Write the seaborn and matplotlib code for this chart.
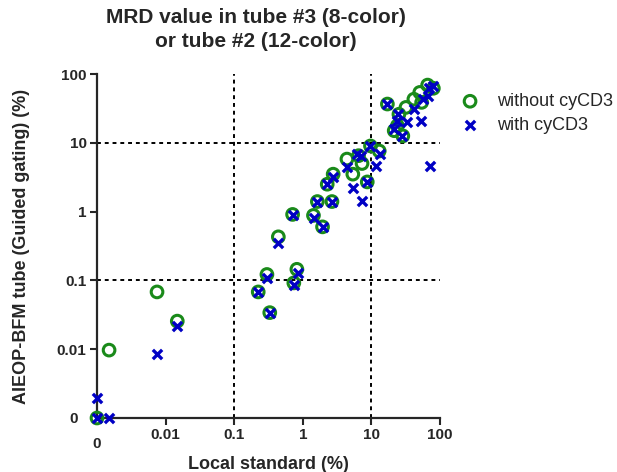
import numpy as np
import pandas as pd
import matplotlib
matplotlib.use("Agg")
import matplotlib.pyplot as plt
import seaborn as sns

# MRD values (%); 0 means negative, drawn on the axis floor like GraphPad does
local_wo = [0, 0.0015, 0.0075, 0.0148, 0.224, 0.30, 0.33, 0.74, 0.82, 0.44,
            0.71, 1.43, 1.94, 1.63, 2.66, 2.27, 2.77, 4.4, 5.36, 6.5,
            7.3, 8.7, 9.7, 13.0, 17.1, 21.5, 23.9, 25.2, 28.7, 31.9,
            41.6, 50.7, 54.0, 66.0, 80.0]
guided_wo = [0, 0.0097, 0.068, 0.0256, 0.068, 0.122, 0.034, 0.092, 0.145, 0.43,
             0.91, 0.88, 0.60, 1.40, 1.40, 2.5, 3.5, 5.8, 3.5, 6.5,
             5.0, 2.7, 9.0, 7.6, 36.6, 15.0, 17.7, 26.0, 12.6, 32.7,
             43.0, 54.0, 38.7, 69.0, 62.0]

local_w = [0, 0, 0.0015, 0.0075, 0.0148, 0.224, 0.30, 0.33, 0.74, 0.84,
           0.44, 0.71, 1.47, 1.94, 1.63, 2.66, 2.27, 2.77, 4.4, 5.36,
           6.1, 7.0, 7.3, 8.7, 9.7, 11.8, 13.5, 17.1, 21.5, 24.5,
           23.9, 27.9, 33.2, 41.6, 52.7, 55.6, 66.0, 72.4, 70.0, 80.0]
guided_w = [0, 0.00195, 0, 0.0086, 0.0216, 0.068, 0.109, 0.034, 0.087, 0.126,
            0.354, 0.88, 0.82, 0.60, 1.40, 1.40, 2.5, 3.2, 4.4, 2.24,
            6.8, 6.5, 1.43, 2.7, 9.0, 4.6, 6.8, 36.6, 15.8, 26.0,
            20.9, 12.6, 20.2, 31.0, 20.9, 43.0, 48.0, 4.6, 62.0, 66.0]

x_ticks = [0, 0.01, 0.1, 1, 10, 100]
y_ticks = [0, 0.01, 0.1, 1, 10, 100]
cutoffs = [0.1, 10]
ZERO = 0.001  # where "0" sits on the log axes

GREEN = "#1a8a1a"
BLUE = "#0000c4"


def floor0(v):
    v = np.asarray(v, dtype=float)
    return np.where(v <= 0, ZERO, v)


df_wo = pd.DataFrame({"local": floor0(local_wo), "guided": floor0(guided_wo)})
df_w = pd.DataFrame({"local": floor0(local_w), "guided": floor0(guided_w)})

sns.set_style("ticks")
plt.rcParams["font.family"] = ["Liberation Sans", "DejaVu Sans"]

fig = plt.figure(figsize=(6.17, 4.72), dpi=100)
ax = fig.add_axes([97 / 617, 1 - 418 / 472, 343 / 617, 344 / 472])

ax.set_xscale("log")
ax.set_yscale("log")
ax.set_xlim(ZERO, 100)
ax.set_ylim(ZERO, 100)

for c in cutoffs:
    ax.axvline(c, color="black", lw=1.4, ls=(0, (2, 2)), zorder=1)
    ax.axhline(c, color="black", lw=1.4, ls=(0, (2, 2)), zorder=1)

sns.scatterplot(data=df_wo, x="local", y="guided", ax=ax, marker="o", s=70,
                facecolors="none", edgecolor=GREEN, linewidth=2.2,
                label="without cyCD3", clip_on=False, zorder=3)
sns.scatterplot(data=df_w, x="local", y="guided", ax=ax, marker="x", s=45,
                color=BLUE, linewidth=2.4, label="with cyCD3",
                clip_on=False, zorder=4)

ax.xaxis.set_major_locator(matplotlib.ticker.FixedLocator(floor0(x_ticks)))
ax.yaxis.set_major_locator(matplotlib.ticker.FixedLocator(floor0(y_ticks)))
ax.xaxis.set_minor_locator(matplotlib.ticker.NullLocator())
ax.yaxis.set_minor_locator(matplotlib.ticker.NullLocator())
ax.set_xticklabels([f"{t:g}" for t in x_ticks])
ax.set_yticklabels([f"{t:g}" for t in y_ticks])
ax.tick_params(axis="both", length=5, width=1.5, labelsize=11, pad=2.5)
for lbl in ax.get_xticklabels() + ax.get_yticklabels():
    lbl.set_fontweight("bold")

# GraphPad pushes the "0" labels away from the axes
xt0 = ax.xaxis.get_major_ticks()[0]
xt0.tick1line.set_visible(False)
xt0.set_pad(9)
yt0 = ax.yaxis.get_major_ticks()[0]
yt0.tick1line.set_visible(False)
yt0.set_pad(9)

for side in ["top", "right"]:
    ax.spines[side].set_visible(False)
for side in ["left", "bottom"]:
    ax.spines[side].set_linewidth(1.6)

ax.set_xlabel("Local standard (%)", fontsize=13, fontweight="bold", labelpad=3)
ax.set_ylabel("AIEOP-BFM tube (Guided gating) (%)", fontsize=13,
              fontweight="bold", labelpad=19)

fig.text(0.415, 1 - 8 / 472, "MRD value in tube #3 (8-color)\nor tube #2 (12-color)",
         ha="center", va="top", fontsize=15, fontweight="bold", linespacing=1.35)

ax.legend(loc="upper left", bbox_to_anchor=(452 / 617, 1 - 93 / 472),
          bbox_transform=fig.transFigure, frameon=False, fontsize=13,
          handletextpad=0.5, labelspacing=0.4, borderpad=0, borderaxespad=0)

fig.savefig("out.png", dpi=100)
